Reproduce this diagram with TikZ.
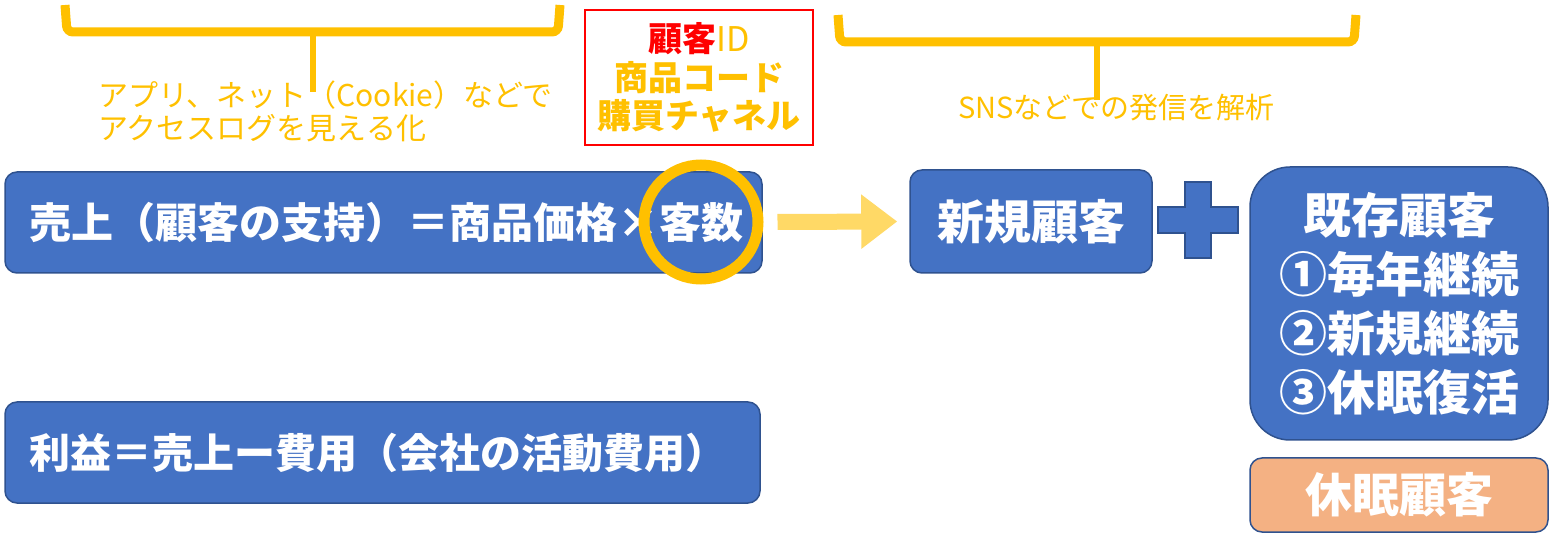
\documentclass[tikz,border=0pt]{standalone}
\usepackage{fontspec}
\setmainfont{Noto Sans CJK JP}
\usetikzlibrary{arrows.meta}
\usetikzlibrary{positioning}
\definecolor{mblue}{HTML}{4472C4}
\definecolor{mborder}{HTML}{2F528F}
\definecolor{morange}{HTML}{FFC000}
\definecolor{myellow}{HTML}{FFD966}
\definecolor{mpeach}{HTML}{F4B183}
\tikzset{bluebox/.style = {draw=mborder, fill=mblue, line width=0.75pt, rounded corners=6pt, text=white},
         brace/.style = {draw=morange, line width=4.5pt, rounded corners=3pt},
         note/.style = {text=morange, inner sep=0pt}}

\begin{document}
\begin{tikzpicture}[x=0.5pt, y=-0.5pt]
    \useasboundingbox (0,0) rectangle (1549,534);

    \draw [brace] (65,5) -- (67,32) -- (558,32) -- (560,5);
    \draw [morange, line width=3pt] (313,32) -- (313,92);
    \node [note, align=left, anchor=west, font=\fontsize{15}{16.5}\selectfont] (webnote) at (98,111) {アプリ、ネット（Cookie）などで\\アクセスログを見える化};

    \node [draw=red, line width=0.8pt, minimum width=114pt, minimum height=67.5pt, align=center, text=morange,
           font=\fontsize{17}{19.25}\selectfont\bfseries] (keys) at (699,77.5) {\textcolor{red}{顧客}\mdseries ID\\商品コード\\購買チャネル};

    \draw [brace] (838,15) -- (840,42) -- (1354,42) -- (1356,15);
    \draw [morange, line width=3pt] (1097,42) -- (1097,100);
    \node [note, font=\fontsize{14.5}{16}\selectfont] (snsnote) at (1116,108) {SNSなどでの発信を解析};

    \node [bluebox, text width=353.5pt, inner xsep=12.5pt, minimum height=50.5pt, align=left,
           font=\fontsize{21}{24}\selectfont\bfseries] (sales) at (383.5,222.5) {売上（顧客の支持）＝商品価格×客数};
    \node [draw=morange, line width=5.5pt, circle, minimum size=57pt] (ring) at (701,222) {};

    \node [bluebox, minimum width=121pt, minimum height=51.5pt, font=\fontsize{23.5}{27}\selectfont\bfseries] (newc) at (1031,221.5) {新規顧客};
    \draw [myellow, line width=8pt, -{Triangle[length=18pt, width=26pt]}] ([xshift=7pt]ring.east) -- ([xshift=-6pt]newc.west);
    \coordinate (plus) at (1198,220);
    \draw [draw=mborder, fill=mblue, line width=0.75pt] (plus) ++(-40,-13) -- ++(27,0) -- ++(0,-25) -- ++(26,0) -- ++(0,25) -- ++(27,0)
        -- ++(0,26) -- ++(-27,0) -- ++(0,25) -- ++(-26,0) -- ++(0,-25) -- ++(-27,0) -- cycle;
    \node [bluebox, rounded corners=20pt, minimum width=149pt, minimum height=136.5pt, align=center,
           font=\fontsize{24}{29.5}\selectfont\bfseries] (old) at (1399,303.5) {既存顧客\\①毎年継続\\②新規継続\\③休眠復活};
    \node [bluebox, fill=mpeach, minimum width=149pt, minimum height=37pt, font=\fontsize{23.5}{27}\selectfont\bfseries] (dormant) at (1399,495) {休眠顧客};

    \node [bluebox, text width=352.5pt, inner xsep=12.5pt, minimum height=50.5pt, align=left,
           font=\fontsize{20.5}{24}\selectfont\bfseries] (profit) at (382.5,452.5) {利益＝売上ー費用（会社の活動費用）};
\end{tikzpicture}
\end{document}
